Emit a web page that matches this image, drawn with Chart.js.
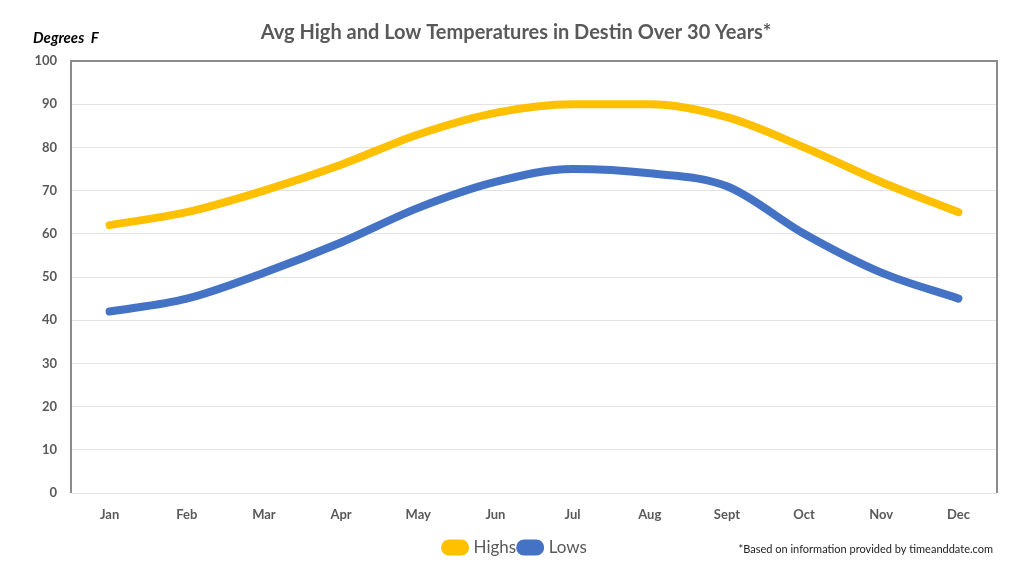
<!DOCTYPE html>
<html>
<head>
<meta charset="utf-8">
<script src="https://cdn.jsdelivr.net/npm/chart.js@4"></script>
<style>
  html, body { margin: 0; padding: 0; background: #fff; }
  #wrap { width: 1024px; height: 576px; }
</style>
</head>
<body>
<div id="wrap"><canvas id="chart-temps" width="1024" height="576"></canvas></div>
<script>
// Avg high / low temperatures in Destin (deg F)
const months = ['Jan', 'Feb', 'Mar', 'Apr', 'May', 'Jun', 'Jul', 'Aug', 'Sept', 'Oct', 'Nov', 'Dec'];
const highs = [62, 65, 70, 76, 83, 88, 90, 90, 87, 80, 72, 65];
const lows = [42, 45, 51, 58, 66, 72, 75, 74, 71, 60, 51, 45];
const yTicks = [0, 10, 20, 30, 40, 50, 60, 70, 80, 90, 100];

const FONT = 'Lato, "Open Sans", sans-serif';
const GREY = '#595959';

// frame, axis caption and footnote drawn on top of the chart
const extras = {
    id: 'extras',
    beforeDatasetsDraw(chart) {
        const { ctx, chartArea: a } = chart;
        ctx.save();
        ctx.strokeStyle = '#8c8c8c';
        ctx.lineWidth = 2;
        ctx.beginPath();
        ctx.moveTo(a.left, a.bottom);
        ctx.lineTo(a.left, a.top);
        ctx.lineTo(a.right, a.top);
        ctx.lineTo(a.right, a.bottom);
        ctx.stroke();
        ctx.restore();
    },
    afterDraw(chart) {
        const { ctx } = chart;
        ctx.save();
        ctx.fillStyle = '#000';
        ctx.font = 'italic bold 15px ' + FONT;
        ctx.textBaseline = 'middle';
        ctx.textAlign = 'left';
        ctx.fillText('Degrees  F', 33, 38);

        ctx.fillStyle = '#222';
        ctx.font = '11px ' + FONT;
        ctx.textAlign = 'right';
        ctx.fillText('*Based on information provided by timeanddate.com', 993, 549);
        ctx.restore();
    }
};

new Chart(document.getElementById('chart-temps'), {
    type: 'line',
    data: {
        labels: months,
        datasets: [{
            label: 'Highs',
            data: highs,
            borderColor: '#FFC000',
            backgroundColor: '#FFC000',
            borderWidth: 8,
            pointRadius: 0,
            cubicInterpolationMode: 'monotone',
            borderCapStyle: 'round',
            borderJoinStyle: 'round'
        }, {
            label: 'Lows',
            data: lows,
            borderColor: '#4472C4',
            backgroundColor: '#4472C4',
            borderWidth: 8,
            pointRadius: 0,
            cubicInterpolationMode: 'monotone',
            borderCapStyle: 'round',
            borderJoinStyle: 'round'
        }]
    },
    options: {
        responsive: false,
        animation: false,
        layout: { padding: { top: 0, left: 35, right: 27, bottom: 10 } },
        plugins: {
            title: {
                display: true,
                text: 'Avg High and Low Temperatures in Destin Over 30 Years*',
                color: GREY,
                font: { family: FONT, size: 20, weight: 'bold' },
                padding: { top: 21, bottom: 16 }
            },
            legend: {
                position: 'bottom',
                labels: {
                    color: GREY,
                    font: { family: FONT, size: 17 },
                    boxWidth: 20,
                    boxHeight: 8,
                    useBorderRadius: true,
                    borderRadius: 4,
                    padding: 4
                }
            },
            tooltip: { enabled: false }
        },
        scales: {
            x: {
                offset: true,
                grid: { display: false, drawTicks: false },
                border: { display: false },
                ticks: {
                    color: GREY,
                    font: { family: FONT, size: 13, weight: 'bold' },
                    padding: 14,
                    maxRotation: 0
                },
                afterFit: s => { s.height = 42; }
            },
            y: {
                min: 0,
                max: 100,
                afterBuildTicks: s => { s.ticks = yTicks.map(v => ({ value: v })); },
                grid: { color: '#e3e3e3', lineWidth: 1, drawTicks: false },
                border: { display: false },
                ticks: {
                    color: GREY,
                    font: { family: FONT, size: 13, weight: 'bold' },
                    padding: 14
                },
                afterFit: s => { s.width = 36; }
            }
        }
    },
    plugins: [extras]
});
</script>
</body>
</html>
